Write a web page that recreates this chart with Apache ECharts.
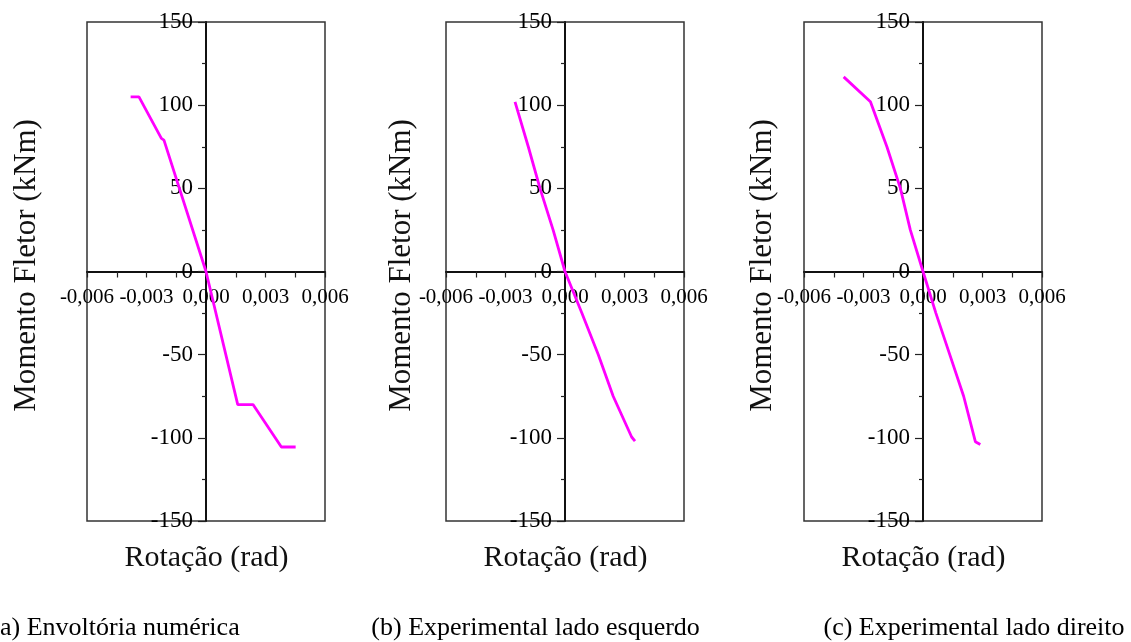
<!DOCTYPE html>
<html>
<head>
<meta charset="utf-8">
<script src="https://cdn.jsdelivr.net/npm/echarts@6/dist/echarts.min.js"></script>
<style>
  html, body { margin: 0; padding: 0; background: #fff; }
  #chart { width: 1131px; height: 642px; }
</style>
</head>
<body>
<div id="chart"></div>
<script>
// ---- data ----
const xTicks = [-0.006, -0.003, 0, 0.003, 0.006];
const yTicks = [-150, -100, -50, 0, 50, 100, 150];
const xTitle = 'Rotação (rad)';
const yTitle = 'Momento Fletor (kNm)';
const captions = ['(a) Envoltória numérica', '(b) Experimental lado esquerdo', '(c) Experimental lado direito'];

// (a) numerical envelope
const aRot = [-0.0038, -0.00338, -0.00225, -0.00212, 0, 0.0016, 0.00237, 0.0038, 0.00452];
const aMom = [105, 105, 80, 79, 0, -80, -80, -105.5, -105.5];
// (b) experimental, left side
const bRot = [-0.00252, -0.00185, -0.00126, -0.0006, 0, 0.00085, 0.00168, 0.00243, 0.00336, 0.00353];
const bMom = [102, 75, 50, 25, 0, -25, -50, -75, -99.5, -102];
// (c) experimental, right side
const cRot = [-0.0040, -0.00265, -0.00182, -0.00114, -0.00064, 0, 0.00065, 0.00135, 0.00205, 0.00264, 0.00289];
const cMom = [117, 102, 75, 50, 25, 0, -25, -50, -75, -102.3, -104];

// ---- layout ----
const FONT = '"Liberation Serif", "Times New Roman", serif';
const panels = [
  { rot: aRot, mom: aMom, left: 87, yTitleX: 26.5, capX: 115.5 },
  { rot: bRot, mom: bMom, left: 446, yTitleX: 402, capX: 535.6 },
  { rot: cRot, mom: cMom, left: 804, yTitleX: 763, capX: 974 }
];
const GW = 238, GT = 22, GH = 499;

const fmtX = v => (Math.abs(v) < 1e-9 ? 0 : v).toFixed(3).replace('.', ',');

const grids = [], xAxes = [], yAxes = [], series = [], graphics = [];
panels.forEach((p, i) => {
  grids.push({ left: p.left, top: GT, width: GW, height: GH, show: true,
    borderColor: '#333', borderWidth: 1.5, backgroundColor: 'transparent', containLabel: false });
  // symmetric ranges: the zero lines sit at the grid centre, so the axes are shifted there
  xAxes.push({
    gridIndex: i, type: 'value', position: 'bottom', offset: -GH / 2,
    min: xTicks[0], max: xTicks[xTicks.length - 1], interval: xTicks[1] - xTicks[0],
    axisLine: { onZero: false, lineStyle: { color: '#111', width: 2 } },
    axisTick: { show: true, length: 6, lineStyle: { color: '#222', width: 1.2 } },
    minorTick: { show: true, splitNumber: 2, length: 6, lineStyle: { color: '#222', width: 1.2 } },
    splitLine: { show: false }, minorSplitLine: { show: false },
    axisLabel: { formatter: fmtX, fontFamily: FONT, fontSize: 21, color: '#000', margin: 15 }
  });
  yAxes.push({
    gridIndex: i, type: 'value', position: 'left', offset: -GW / 2,
    min: yTicks[0], max: yTicks[yTicks.length - 1], interval: yTicks[1] - yTicks[0],
    axisLine: { onZero: false, lineStyle: { color: '#111', width: 2 } },
    axisTick: { show: true, length: 8, lineStyle: { color: '#222', width: 1.2 } },
    minorTick: { show: true, splitNumber: 2, length: 4, lineStyle: { color: '#222', width: 1.2 } },
    splitLine: { show: false }, minorSplitLine: { show: false },
    axisLabel: { fontFamily: FONT, fontSize: 23, color: '#000', margin: 13 }
  });
  series.push({
    type: 'line', xAxisIndex: i, yAxisIndex: i, showSymbol: false, symbol: 'none',
    data: p.rot.map((r, k) => [r, p.mom[k]]),
    lineStyle: { color: '#ff00ff', width: 2.8 }, animation: false, z: 5
  });
  graphics.push({
    type: 'text', x: p.left + GW / 2 + 0.5, y: 558,
    style: { text: xTitle, fontFamily: FONT, fontSize: 30, fill: '#111', align: 'center', verticalAlign: 'middle' }
  });
  graphics.push({
    type: 'text', x: p.yTitleX, y: GT + GH / 2 - 6, rotation: Math.PI / 2,
    style: { text: yTitle, fontFamily: FONT, fontSize: 31, fill: '#111', align: 'center', verticalAlign: 'middle' }
  });
  graphics.push({
    type: 'text', x: p.capX, y: 628,
    style: { text: captions[i], fontFamily: FONT, fontSize: 26, fill: '#000', align: 'center', verticalAlign: 'middle' }
  });
});

const chart = echarts.init(document.getElementById('chart'), null, { renderer: 'canvas' });
chart.setOption({
  animation: false,
  backgroundColor: '#fff',
  grid: grids, xAxis: xAxes, yAxis: yAxes, series: series, graphic: graphics
});
</script>
</body>
</html>
